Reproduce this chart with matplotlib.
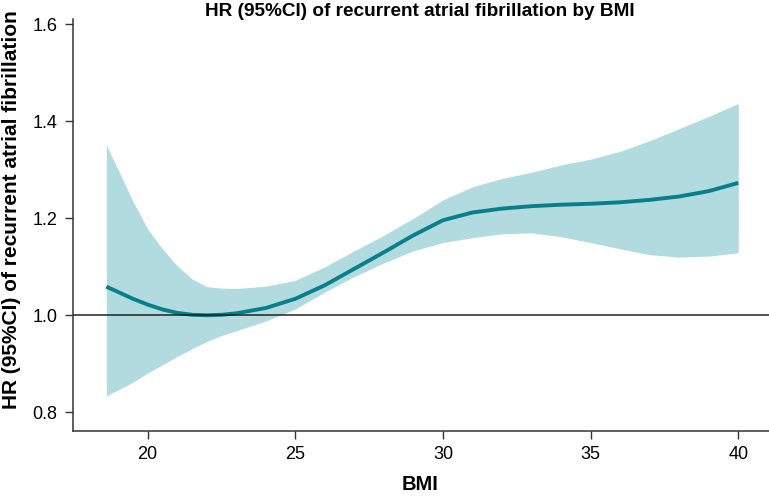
import matplotlib
matplotlib.use("Agg")
import matplotlib.pyplot as plt
import numpy as np

plt.rcParams['font.family'] = ['Liberation Sans', 'DejaVu Sans']

# values
bmi = [18.6, 19.0, 19.5, 20.0, 20.5, 21.0, 21.5, 22.0, 22.5, 23.0, 24.0, 25.0,
       26.0, 27.0, 28.0, 29.0, 30.0, 31.0, 32.0, 33.0, 34.0, 35.0, 36.0, 37.0,
       38.0, 39.0, 40.0]
hr = [1.059, 1.048, 1.034, 1.022, 1.012, 1.005, 1.001, 1.000, 1.001, 1.004,
      1.015, 1.034, 1.062, 1.096, 1.130, 1.165, 1.196, 1.212, 1.220, 1.225,
      1.228, 1.230, 1.233, 1.238, 1.245, 1.256, 1.273]
ci_upper = [1.351, 1.30, 1.235, 1.178, 1.137, 1.102, 1.075, 1.059, 1.056, 1.055,
            1.060, 1.072, 1.100, 1.133, 1.165, 1.200, 1.238, 1.265, 1.282, 1.295,
            1.310, 1.322, 1.338, 1.360, 1.385, 1.410, 1.437]
ci_lower = [0.834, 0.846, 0.862, 0.881, 0.898, 0.915, 0.931, 0.946, 0.958, 0.968,
            0.988, 1.013, 1.048, 1.080, 1.108, 1.133, 1.150, 1.160, 1.168, 1.170,
            1.162, 1.150, 1.137, 1.125, 1.120, 1.122, 1.129]

fig = plt.figure(figsize=(7.69, 4.96), dpi=100)
ax = fig.add_axes([0.0945, 0.1317, 0.9055, 0.83])

ax.fill_between(bmi, ci_lower, ci_upper, color='#b2dbe0', linewidth=0)
ax.plot(bmi, hr, color='#0a7f8c', linewidth=2.8, solid_capstyle='butt')
ax.axhline(1.0, color='#222222', linewidth=1.1)

ax.set_xlim(17.46, 41.04)
ax.set_ylim(0.762, 1.611)
ax.set_xticks([20, 25, 30, 35, 40])
ax.set_yticks([0.8, 1.0, 1.2, 1.4, 1.6])
ax.set_yticklabels(['0.8', '1.0', '1.2', '1.4', '1.6'])

for s in ['top', 'right']:
    ax.spines[s].set_visible(False)
for s in ['left', 'bottom']:
    ax.spines[s].set_color('#333333')
    ax.spines[s].set_linewidth(1.1)
ax.tick_params(direction='out', length=6, width=1, color='#333333',
               labelsize=13, pad=5)

# axis labels and title placed as in the reference
fig.text(420 / 769, 1 - 484 / 496, 'BMI', ha='center', va='center',
         fontsize=14.5, fontweight='bold')
fig.text(12 / 769, 1 - 210 / 496, 'HR (95%CI) of recurrent atrial fibrillation',
         ha='center', va='center', rotation=90, fontsize=15, fontweight='bold')
fig.text(420 / 769, 1 - 11 / 496, 'HR (95%CI) of recurrent atrial fibrillation by BMI',
         ha='center', va='center', fontsize=13.7, fontweight='bold')

fig.savefig('out.png', dpi=100)
